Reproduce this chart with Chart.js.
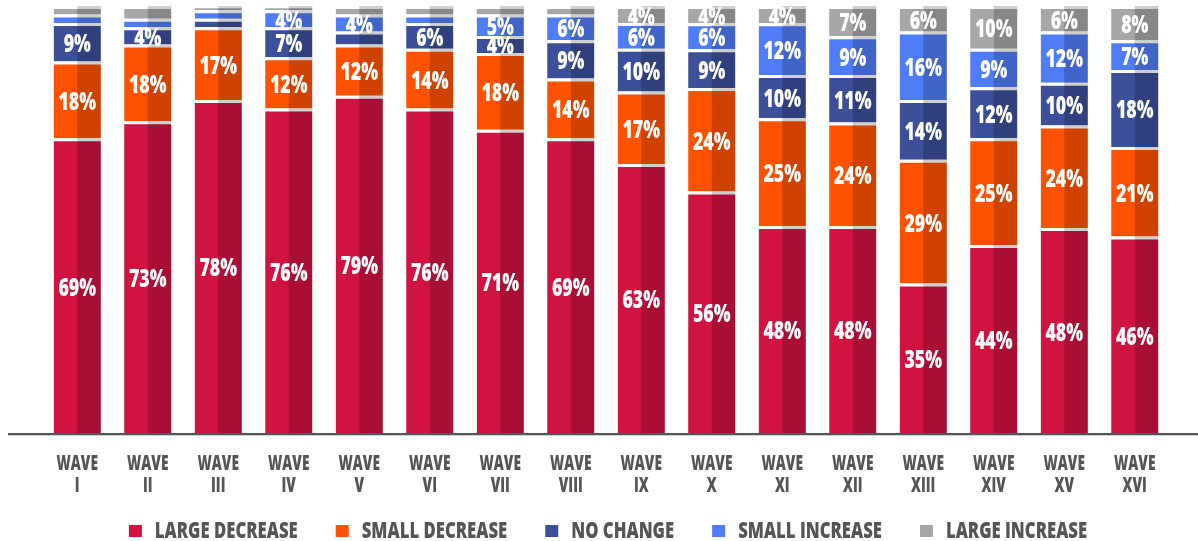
<!DOCTYPE html>
<html>
<head>
<meta charset="utf-8">
<script src="https://cdn.jsdelivr.net/npm/chart.js@4.4.1/dist/chart.umd.min.js"></script>
<style>
    html, body { margin: 0; padding: 0; background: #fff; }
    #wrap { width: 1198px; height: 541px; position: relative; }
</style>
</head>
<body>
<div id="wrap"><canvas id="barChart"></canvas></div>
<script>
// --- data ---
const waves = ['I', 'II', 'III', 'IV', 'V', 'VI', 'VII', 'VIII', 'IX', 'X', 'XI', 'XII', 'XIII', 'XIV', 'XV', 'XVI'];
const largeDecrease = [69, 73, 78, 76, 79, 76, 71, 69, 63, 56, 48, 48, 35, 44, 48, 46];
const smallDecrease = [18, 18, 17, 12, 12, 14, 18, 14, 17, 24, 25, 24, 29, 25, 24, 21];
const noChange      = [9, 4, 2, 7, 3, 6, 4, 9, 10, 9, 10, 11, 14, 12, 10, 18];
const smallIncrease = [2, 2, 2, 4, 4, 2, 5, 6, 6, 6, 12, 9, 16, 9, 12, 7];
const largeIncrease = [2, 3, 1, 1, 2, 2, 2, 2, 4, 4, 4, 7, 6, 10, 6, 8];
const seriesNames = ['LARGE DECREASE', 'SMALL DECREASE', 'NO CHANGE', 'SMALL INCREASE', 'LARGE INCREASE'];
const seriesColors = ['#D11342', '#FF5200', '#3C4F99', '#4F7CF7', '#A7A7AA'];

const series = [largeDecrease, smallDecrease, noChange, smallIncrease, largeIncrease];
const LABEL_MIN = 4;
const FONT = "'Open Sans', 'Noto Sans', sans-serif";
const WEIGHT = '800';

// 100% stacked: each wave normalised by its own total
const totals = waves.map((w, i) => series.reduce((s, arr) => s + arr[i], 0));

function condensedText(ctx, text, x, y, size, color, squeeze, align) {
    ctx.save();
    ctx.font = WEIGHT + ' ' + size + 'px ' + FONT;
    ctx.fillStyle = color;
    ctx.textBaseline = 'alphabetic';
    ctx.textAlign = 'left';
    const w = ctx.measureText(text).width * squeeze;
    let sx = x;
    if (align === 'center') sx = x - w / 2;
    ctx.translate(sx, y);
    ctx.scale(squeeze, 1);
    ctx.fillText(text, 0, 0);
    ctx.restore();
    return w;
}

function textWidth(ctx, text, size, squeeze) {
    ctx.save();
    ctx.font = WEIGHT + ' ' + size + 'px ' + FONT;
    const w = ctx.measureText(text).width * squeeze;
    ctx.restore();
    return w;
}

// shade right half of each bar, then print values
const barDecor = {
    id: 'barDecor',
    afterDatasetsDraw(chart) {
        const ctx = chart.ctx;
        chart.data.datasets.forEach((ds, di) => {
            chart.getDatasetMeta(di).data.forEach((bar) => {
                const p = bar.getProps(['x', 'y', 'base', 'width'], true);
                ctx.save();
                ctx.fillStyle = 'rgba(0, 0, 0, 0.19)';
                ctx.fillRect(p.x, Math.min(p.y, p.base), p.width / 2, Math.abs(p.base - p.y));
                ctx.restore();
            });
        });
        series.forEach((arr, di) => {
            chart.getDatasetMeta(di).data.forEach((bar, i) => {
                if (arr[i] < LABEL_MIN) return;
                const p = bar.getProps(['x', 'y', 'base'], true);
                const mid = (p.y + p.base) / 2 + 1.5;
                condensedText(ctx, arr[i] + '%', p.x, mid + 8.5, 24, '#fff', 0.74, 'center');
            });
        });
    },
    afterDraw(chart) {
        const ctx = chart.ctx;
        const area = chart.chartArea;
        // base line
        ctx.save();
        ctx.fillStyle = '#555555';
        ctx.fillRect(8, area.bottom, chart.width - 8, 2);
        ctx.fillStyle = '#d0d0d0';
        ctx.fillRect(8, area.bottom + 2, chart.width - 8, 1);
        ctx.restore();

        // category labels
        const xs = chart.scales.x;
        waves.forEach((w, i) => {
            const x = xs.getPixelForTick(i);
            condensedText(ctx, 'WAVE', x, area.bottom + 37, 21, '#555555', 0.655, 'center');
            condensedText(ctx, w, x, area.bottom + 59, 21, '#555555', 0.655, 'center');
        });

        // legend
        const size = 22, sq = 0.76, box = 13, gapBox = 13, gapItem = 38;
        const widths = seriesNames.map(n => textWidth(ctx, n, size, sq));
        const total = widths.reduce((s, w) => s + w, 0) + seriesNames.length * (box + gapBox) + (seriesNames.length - 1) * gapItem;
        let x = (area.left + area.right) / 2 + 2 - total / 2;
        const y = chart.height - 10;
        seriesNames.forEach((n, k) => {
            ctx.fillStyle = seriesColors[k];
            ctx.fillRect(x, y - 6, box, box - 1);
            x += box + gapBox;
            condensedText(ctx, n, x, y + 7, size, '#555555', sq, 'left');
            x += widths[k] + gapItem;
        });
    }
};

const barChart = new Chart(document.getElementById('barChart').getContext('2d'), {
    type: 'bar',
    data: {
        labels: waves.map(w => 'WAVE ' + w),
        datasets: series.map((arr, k) => ({
            label: seriesNames[k],
            data: arr.map((v, i) => v / totals[i] * 100),
            backgroundColor: seriesColors[k],
            borderColor: '#ffffff',
            borderWidth: { top: 3, left: 0, right: 0, bottom: 0 },
            borderSkipped: false,
            categoryPercentage: 1,
            barPercentage: 0.67
        }))
    },
    options: {
        responsive: true,
        maintainAspectRatio: false,
        animation: false,
        layout: { padding: { left: 42, right: 28, top: 6, bottom: 100 } },
        plugins: {
            legend: { display: false },
            tooltip: { enabled: false }
        },
        scales: {
            x: {
                stacked: true,
                grid: { display: false },
                border: { display: false },
                ticks: { display: false }
            },
            y: {
                stacked: true,
                display: false,
                min: 0,
                max: 100
            }
        }
    },
    plugins: [barDecor]
});
</script>
</body>
</html>
